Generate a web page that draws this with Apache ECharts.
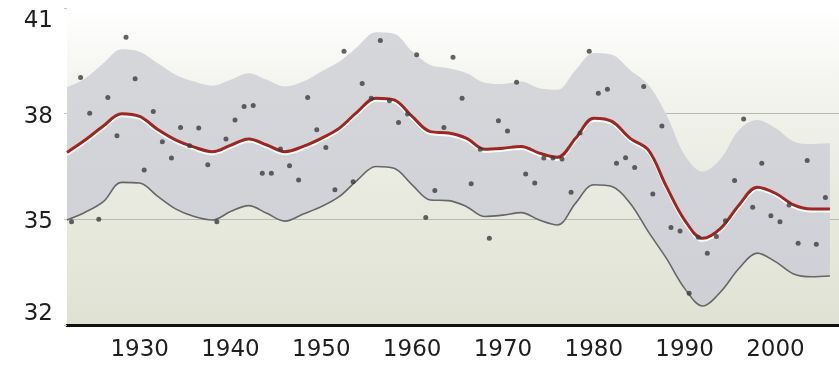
<!DOCTYPE html>
<html>
<head>
<meta charset="utf-8">
<script src="https://cdn.jsdelivr.net/npm/echarts@6/dist/echarts.min.js"></script>
<style>
  html, body { margin: 0; padding: 0; background: #ffffff; }
  #chart { width: 839px; height: 368px; }
</style>
</head>
<body>
<div id="chart"></div>
<script>
// ---- data ----
var curveYears = [1922,1924,1926,1928,1930,1932,1934,1936,1938,1940,1942,1944,1946,1948,1950,1952,1954,1956,1958,1960,1962,1964,1966,1968,1970,1972,1974,1976,1978,1980,1982,1984,1986,1988,1990,1992,1994,1996,1998,2000,2002,2004,2006];
var upperBand = [38.75,39.0,39.43,39.83,39.76,39.43,39.10,38.91,38.79,38.96,39.15,38.96,38.77,38.91,39.20,39.48,39.91,40.31,40.27,39.77,39.38,39.29,39.15,38.88,38.84,38.91,38.72,38.68,39.24,39.72,39.67,39.24,38.82,37.97,36.83,36.36,36.73,37.54,37.82,37.59,37.21,37.14,37.16];
var lowerBand = [34.98,35.2,35.5,36.05,36.03,35.65,35.29,35.08,34.98,35.22,35.39,35.17,34.95,35.15,35.36,35.65,36.12,36.50,36.45,35.98,35.55,35.53,35.36,35.08,35.12,35.19,34.98,34.84,35.46,35.98,35.93,35.46,34.65,33.89,33.04,32.54,32.95,33.61,34.04,33.80,33.45,33.37,33.39];
var fitLine = [36.90,37.25,37.65,38.0,37.92,37.55,37.25,37.05,36.92,37.10,37.28,37.11,36.92,37.07,37.30,37.59,38.06,38.44,38.39,37.92,37.49,37.45,37.30,36.99,37.02,37.07,36.88,36.76,37.30,37.87,37.78,37.30,36.97,35.93,34.98,34.46,34.75,35.41,35.91,35.74,35.41,35.29,35.29];

var firstPointYear = 1922;
var pointValues = [34.93,39.03,38.01,35.00,38.46,37.37,40.17,38.99,36.40,38.06,37.20,36.74,37.61,37.09,37.59,36.55,34.93,37.28,37.82,38.20,38.23,36.31,36.31,37.00,36.52,36.12,38.46,37.54,37.04,35.84,39.77,36.07,38.86,38.44,40.08,38.37,37.75,37.99,39.67,35.05,35.82,37.61,
  39.60,38.44,36.01,36.99,34.46,37.80,37.51,38.89,36.29,36.03,36.74,36.74,36.71,35.77,37.45,39.77,38.58,38.69,36.59,36.75,36.47,38.77,35.72,37.65,34.77,34.67,32.90,34.49,34.04,34.51,34.96,36.10,37.85,35.34,36.59,35.10,34.93,35.41,34.32,36.67,34.29,35.62];

var xTickLabels = [1930,1940,1950,1960,1970,1980,1990,2000];
var yTicks = [32,35,38,41];

// ---- build series data ----
// value first, year second (encode maps them), so that stacking is applied to the value dimension
function valueYearPairs(xs, ys) { return xs.map(function (x, i) { return [ys[i], x]; }); }
var bandWidth = upperBand.map(function (u, i) { return +(u - lowerBand[i]).toFixed(3); });
// annual values are plotted at mid-year
var points = pointValues.map(function (v, i) { return [firstPointYear + i + 0.5, v]; });

var FONT = 'DejaVu Sans';
var chart = echarts.init(document.getElementById('chart'), null, { renderer: 'canvas' });

chart.setOption({
  animation: false,
  grid: {
    left: 67, right: 0, top: 8, bottom: 43,
    show: true,
    borderWidth: 0,
    backgroundColor: {
      type: 'linear', x: 0, y: 0, x2: 0, y2: 1,
      colorStops: [
        { offset: 0, color: '#ffffff' },
        { offset: 0.25, color: '#f3f4ee' },
        { offset: 0.6, color: '#e8eadf' },
        { offset: 1, color: '#dfe2d3' }
      ]
    }
  },
  xAxis: {
    type: 'value',
    min: 1922,
    max: 2007,
    axisLine: { show: true, lineStyle: { color: '#111', width: 3 } },
    axisTick: { show: false },
    splitLine: { show: false },
    axisLabel: {
      customValues: xTickLabels,
      formatter: function (v) { return String(v); },
      margin: 14,
      fontFamily: FONT,
      fontSize: 23,
      color: '#1e1e1e'
    }
  },
  yAxis: {
    type: 'value',
    min: yTicks[0],
    max: yTicks[yTicks.length - 1],
    interval: 3,
    axisLine: { show: false },
    axisTick: { show: true, length: 3, lineStyle: { color: '#c8c8c0' } },
    splitLine: {
      show: true,
      lineStyle: { color: ['transparent', '#b9bbb1', '#b9bbb1', 'transparent'], width: 1 }
    },
    axisLabel: {
      margin: 14,
      fontFamily: FONT,
      fontSize: 23,
      color: '#1e1e1e',
      formatter: function (v) {
        if (v === yTicks[yTicks.length - 1]) return '{top|' + v + '}';
        if (v === yTicks[0]) return '{bot|' + v + '}';
        return '{mid|' + v + '}';
      },
      rich: {
        top: { fontFamily: FONT, fontSize: 23, color: '#1e1e1e', padding: [26, 0, 0, 0] },
        mid: { fontFamily: FONT, fontSize: 23, color: '#1e1e1e', padding: [6, 0, 0, 0] },
        bot: { fontFamily: FONT, fontSize: 23, color: '#1e1e1e', padding: [0, 0, 22, 0] }
      }
    }
  },
  series: [
    {
      name: 'lower',
      type: 'line',
      stack: 'band',
      data: valueYearPairs(curveYears, lowerBand),
      encode: { x: 1, y: 0 },
      smooth: 0.35,
      symbol: 'none',
      z: 4,
      lineStyle: { color: '#666666', width: 1.6 }
    },
    {
      name: 'band',
      type: 'line',
      stack: 'band',
      data: valueYearPairs(curveYears, bandWidth),
      encode: { x: 1, y: 0 },
      smooth: 0.35,
      symbol: 'none',
      z: 2,
      lineStyle: { width: 0, opacity: 0 },
      areaStyle: {
        opacity: 1,
        color: {
          type: 'linear', x: 0, y: 0, x2: 0, y2: 1,
          colorStops: [
            { offset: 0, color: '#d6d7db' },
            { offset: 1, color: '#cfd0d5' }
          ]
        }
      }
    },
    {
      name: 'fit',
      type: 'line',
      data: valueYearPairs(curveYears, fitLine),
      encode: { x: 1, y: 0 },
      smooth: 0.35,
      symbol: 'none',
      z: 5,
      lineStyle: {
        color: '#9b2622', width: 3,
        shadowColor: '#ffffff', shadowBlur: 0, shadowOffsetY: 2
      }
    },
    {
      name: 'obs',
      type: 'scatter',
      data: points,
      symbol: 'circle',
      symbolSize: 5,
      z: 6,
      itemStyle: { color: '#3c3c3c' }
    }
  ]
});
</script>
</body>
</html>
